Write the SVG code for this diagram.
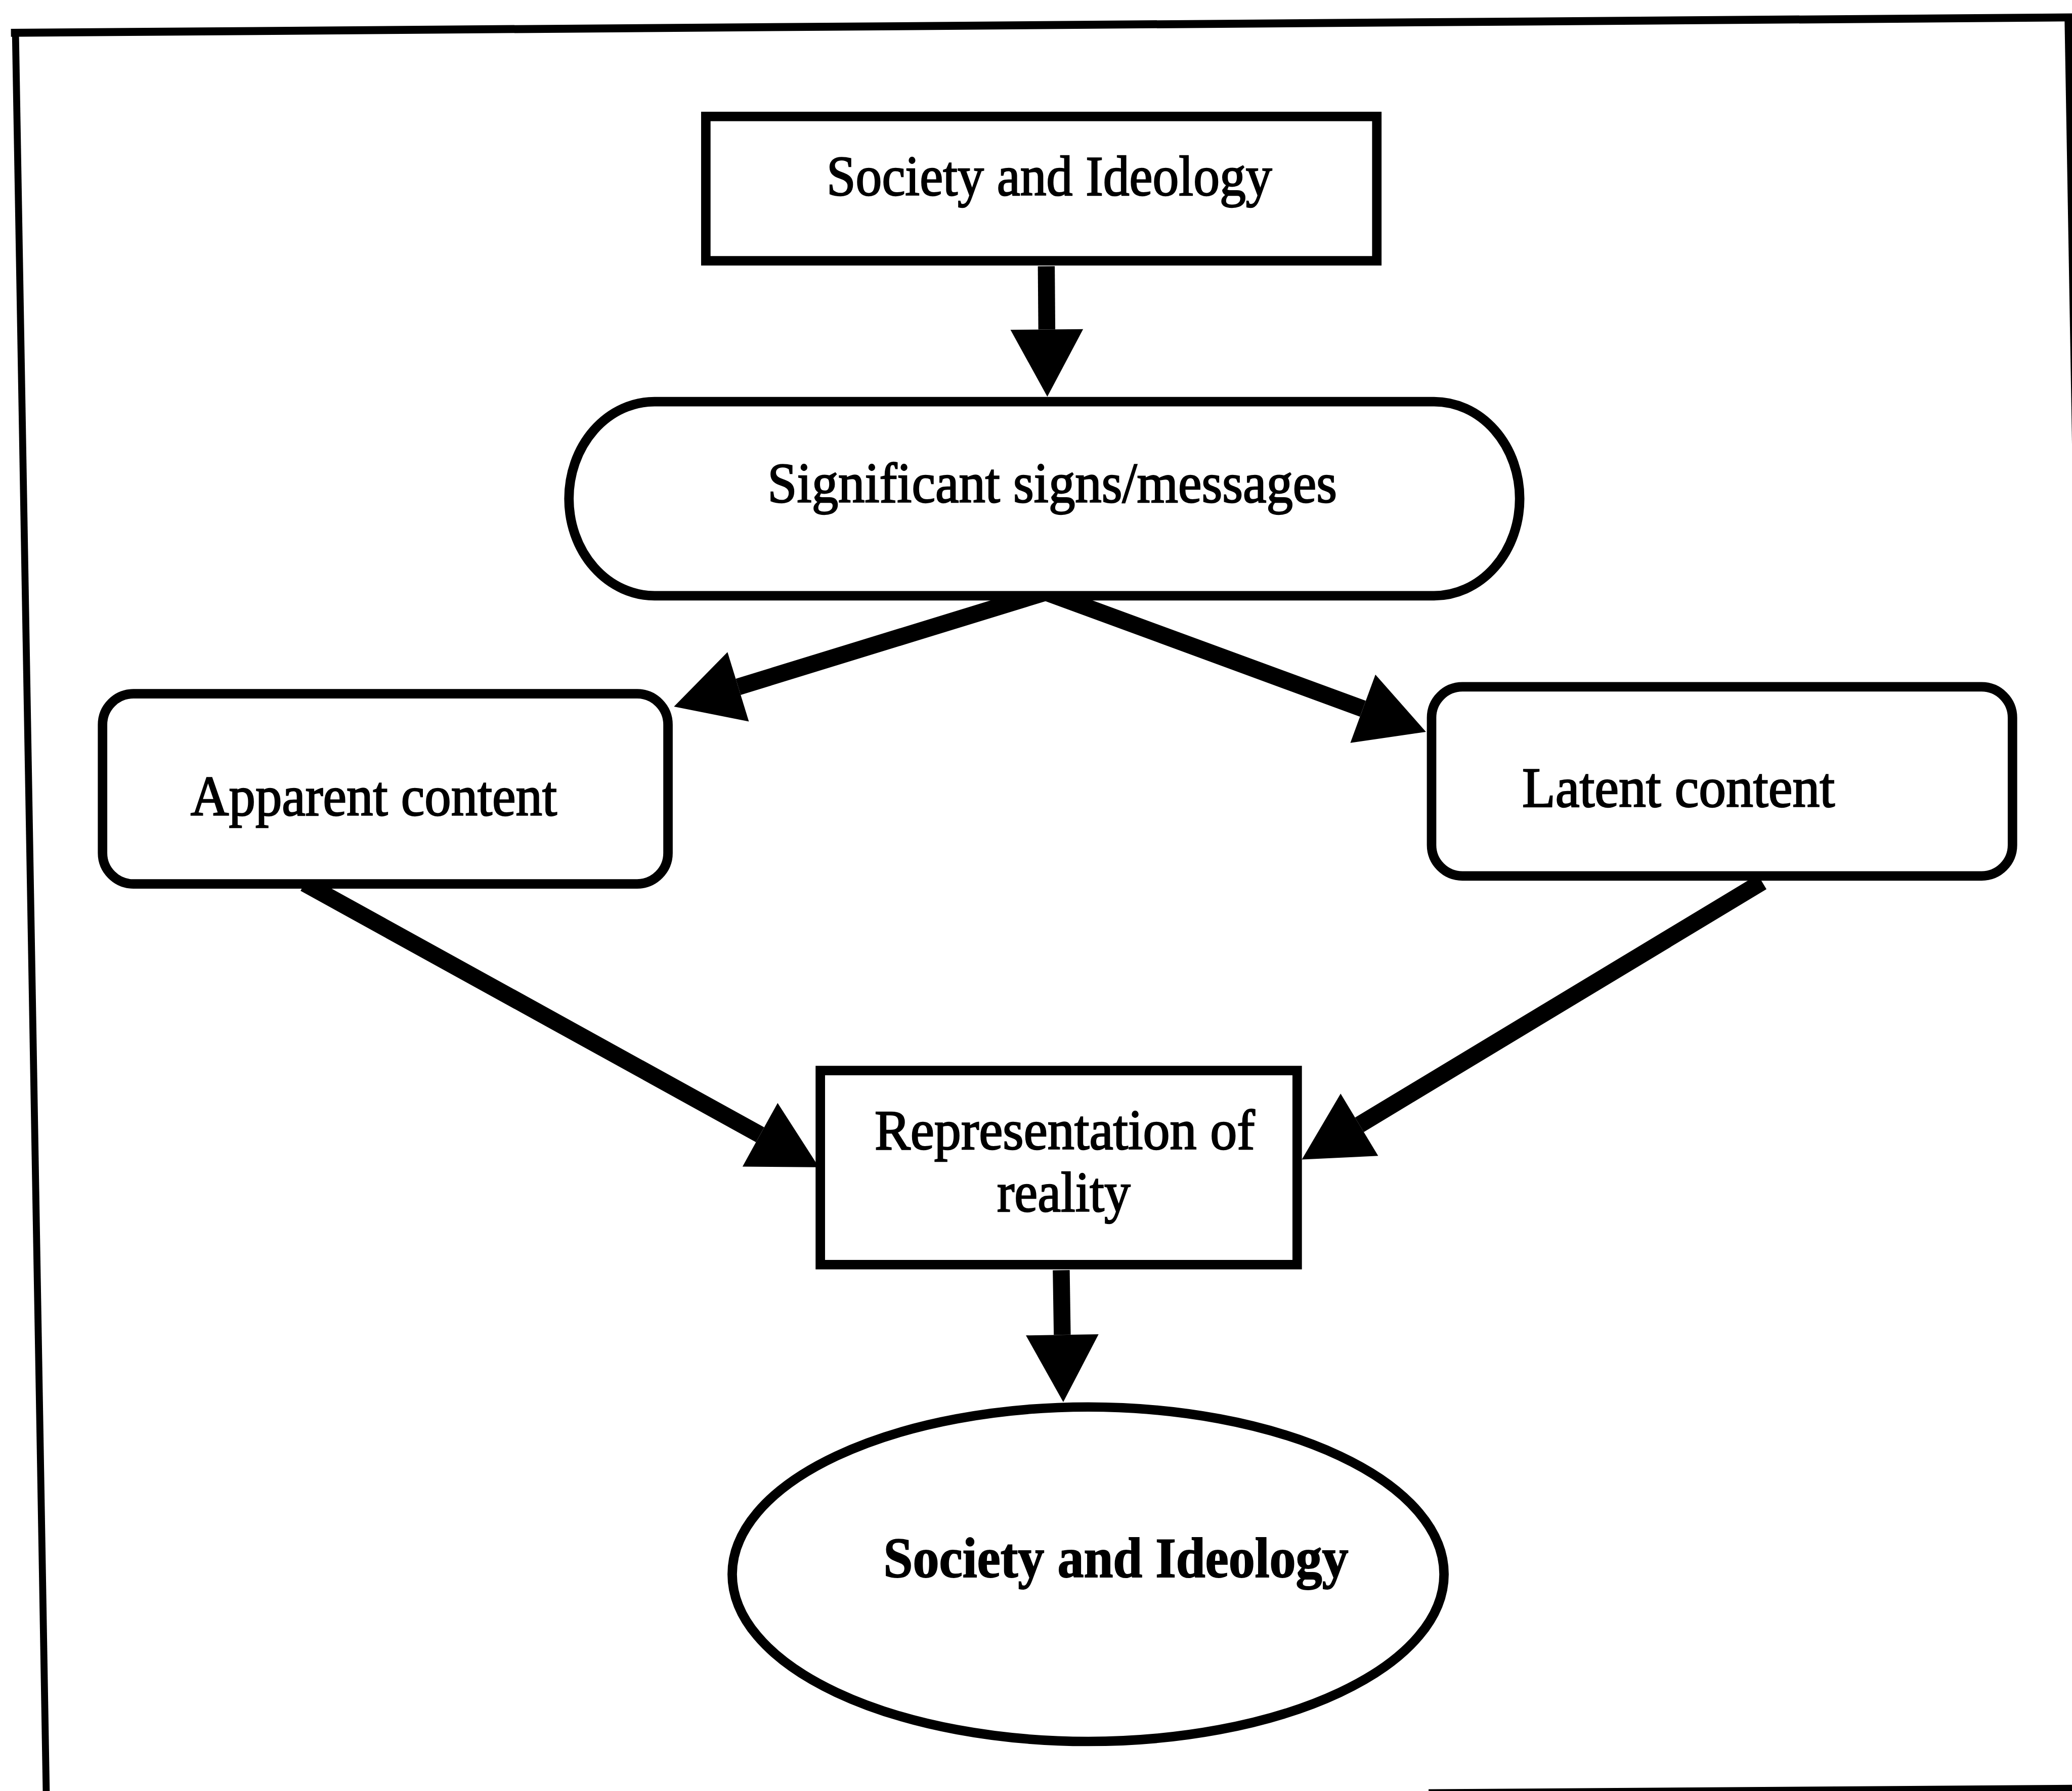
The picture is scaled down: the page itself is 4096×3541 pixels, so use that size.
<svg xmlns="http://www.w3.org/2000/svg" width="4096" height="3541" viewBox="0 0 4096 3541">
  <defs>
    <style>
      .node { fill: #ffffff; stroke: #000000; stroke-width: 19; }
      .edge { fill: none; stroke: #000000; stroke-width: 34; marker-end: url(#head); }
      .frame { fill: none; stroke: #000000; }
      text { font-family: "Liberation Serif", "Times New Roman", serif; font-size: 114px; fill: #000000; stroke: #000000; stroke-width: 2.5; text-anchor: middle; }
      .bold { font-weight: bold; stroke-width: 2; }
    </style>
    <!-- filled triangular arrowhead, base sits at the end of the shaft -->
    <marker id="head" markerUnits="userSpaceOnUse" viewBox="0 0 136 150" markerWidth="136" markerHeight="150" refX="0" refY="75" orient="auto" overflow="visible">
      <path d="M0,2 L135,75 L0,148 Z" fill="#000000"/>
    </marker>
  </defs>

  <rect x="0" y="0" width="4096" height="3541" fill="#ffffff"/>

  <g transform="scale(0.984)">
    <!-- outer frame (slightly skewed) -->
    <g id="frame" class="frame">
      <line x1="22" y1="66" x2="4166" y2="35" stroke-width="16"/>
      <line x1="31" y1="60" x2="93" y2="3605" stroke-width="14"/>
      <line x1="4155" y1="30" x2="4172" y2="1000" stroke-width="15"/>
      <line x1="2870" y1="3602" x2="4170" y2="3593" stroke-width="14"/>
    </g>

    <!-- connectors -->
    <g id="connectors">
      <line class="edge" x1="2102" y1="535" x2="2103" y2="662"/>
      <line class="edge" x1="2101" y1="1190" x2="1483" y2="1380"/>
      <line class="edge" x1="2101" y1="1190" x2="2738" y2="1424"/>
      <line class="edge" x1="612" y1="1775" x2="1527" y2="2280"/>
      <line class="edge" x1="3540" y1="1772" x2="2731" y2="2260"/>
      <line class="edge" x1="2132" y1="2552" x2="2134" y2="2682"/>
    </g>

    <g id="society-top">
      <rect class="node" x="1418" y="234" width="1348" height="290"/>
      <text x="2108" y="392" textLength="895" lengthAdjust="spacingAndGlyphs">Society and Ideology</text>
    </g>

    <g id="signs">
      <rect class="node" x="1143" y="807" width="1910" height="390" rx="172" ry="195"/>
      <text x="2114" y="1009" font-size="117" textLength="1144" lengthAdjust="spacingAndGlyphs">Significant signs/messages</text>
    </g>

    <g id="apparent">
      <rect class="node" x="206" y="1394" width="1136" height="382" rx="62" ry="62"/>
      <text x="751" y="1638" font-size="111" textLength="736" lengthAdjust="spacingAndGlyphs">Apparent content</text>
    </g>

    <g id="latent">
      <rect class="node" x="2876" y="1380" width="1167" height="380" rx="62" ry="62"/>
      <text x="3372" y="1621" font-size="111" textLength="628" lengthAdjust="spacingAndGlyphs">Latent content</text>
    </g>

    <g id="representation">
      <rect class="node" x="1648" y="2151" width="958" height="390"/>
      <text x="2139" y="2309" textLength="764" lengthAdjust="spacingAndGlyphs">Representation of</text>
      <text x="2137" y="2434" textLength="268" lengthAdjust="spacingAndGlyphs">reality</text>
    </g>

    <g id="society-bottom">
      <ellipse class="node" cx="2186" cy="3163" rx="715" ry="336" stroke-width="20"/>
      <text class="bold" x="2242" y="3169" font-size="111" textLength="934" lengthAdjust="spacingAndGlyphs">Society and Ideology</text>
    </g>
  </g>
</svg>
